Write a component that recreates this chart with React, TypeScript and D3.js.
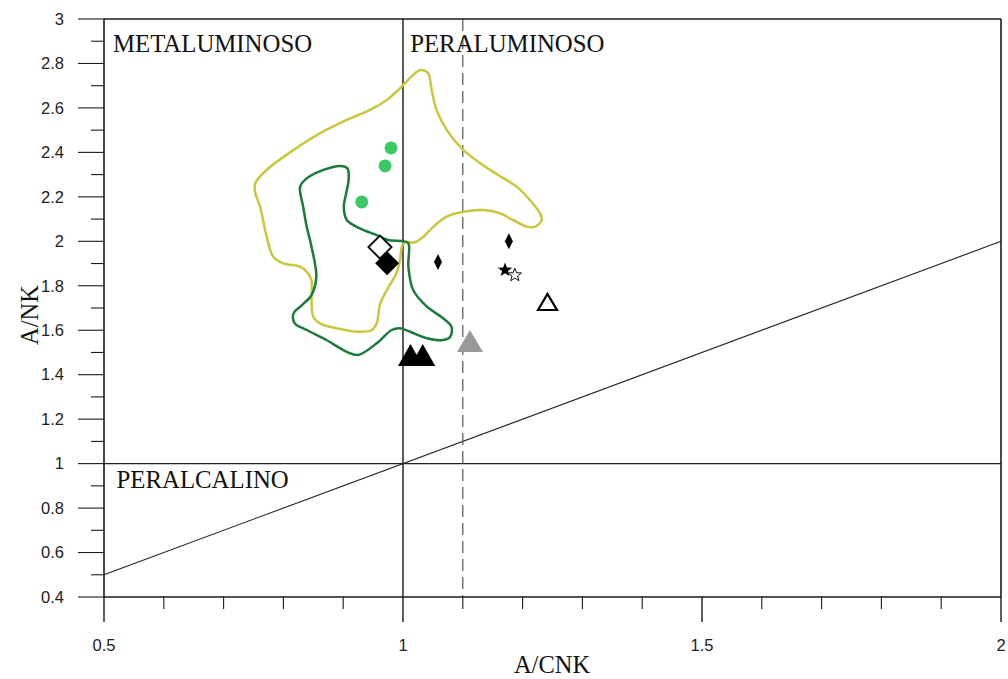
import React from "react";
import * as d3 from "d3";

// ---- Data ----
const xTicksMajor = [0.5, 1, 1.5, 2];
const xTicksMinor = [0.6, 0.7, 0.8, 0.9, 1.1, 1.2, 1.3, 1.4, 1.6, 1.7, 1.8, 1.9];
const yTicksMajor = [0.4, 0.6, 0.8, 1, 1.2, 1.4, 1.6, 1.8, 2, 2.2, 2.4, 2.6, 2.8, 3];
const yTicksMinor = [0.5, 0.7, 0.9, 1.1, 1.3, 1.5, 1.7, 1.9, 2.1, 2.3, 2.5, 2.7, 2.9];

// Yellow field outline [A/CNK, A/NK]
const yellowField: [number, number][] = [
  [1.023, 2.763], [1.031, 2.771], [1.042, 2.756], [1.048, 2.681], [1.056, 2.591],
  [1.073, 2.501], [1.098, 2.418], [1.129, 2.351], [1.159, 2.298], [1.19, 2.246],
  [1.212, 2.186], [1.229, 2.126], [1.232, 2.096], [1.221, 2.066], [1.207, 2.066],
  [1.184, 2.096], [1.162, 2.126], [1.134, 2.141], [1.101, 2.133], [1.073, 2.111],
  [1.051, 2.066], [1.031, 2.014], [1.017, 1.994], [1.006, 1.998], [0.999, 1.983],
  [0.995, 1.916], [0.989, 1.856], [0.973, 1.781], [0.962, 1.721], [0.956, 1.631],
  [0.948, 1.601], [0.923, 1.593], [0.889, 1.609], [0.861, 1.631], [0.85, 1.661],
  [0.847, 1.736], [0.847, 1.826], [0.839, 1.863], [0.828, 1.886], [0.8, 1.901],
  [0.783, 1.931], [0.772, 2.021], [0.761, 2.156], [0.753, 2.216], [0.753, 2.261],
  [0.772, 2.321], [0.817, 2.411], [0.856, 2.478], [0.906, 2.546], [0.945, 2.591],
  [0.973, 2.636], [0.995, 2.688],
];

// Dark green field outline
const greenField: [number, number][] = [
  [0.895, 2.339], [0.907, 2.328], [0.909, 2.276], [0.905, 2.216], [0.901, 2.156],
  [0.906, 2.096], [0.928, 2.058], [0.956, 2.028], [0.975, 2.006], [1.0, 2.001],
  [1.009, 1.991], [1.009, 1.886], [1.017, 1.781], [1.04, 1.706], [1.067, 1.654],
  [1.081, 1.616], [1.079, 1.571], [1.067, 1.556], [1.04, 1.564], [1.012, 1.593],
  [0.995, 1.609], [0.981, 1.601], [0.956, 1.541], [0.925, 1.489], [0.906, 1.503],
  [0.872, 1.556], [0.839, 1.601], [0.819, 1.631], [0.817, 1.676], [0.831, 1.713],
  [0.847, 1.758], [0.855, 1.841], [0.847, 1.976], [0.839, 2.066], [0.833, 2.156],
  [0.828, 2.246], [0.839, 2.283], [0.867, 2.321],
];

const greenCircles: [number, number][] = [[0.98, 2.42], [0.97, 2.339], [0.931, 2.177]];
const openDiamond: [number, number][] = [[0.9615, 1.974]];
const filledDiamond: [number, number][] = [[0.9735, 1.901]];
const thinDiamonds: [number, number][] = [[1.0585, 1.907], [1.177, 2.0]];
const filledStar: [number, number][] = [[1.1706, 1.871]];
const openStar: [number, number][] = [[1.187, 1.848]];
const openTriangle: [number, number][] = [[1.2416, 1.727]];
const grayTriangle: [number, number][] = [[1.112, 1.552]];
const blackTriangles: [number, number][] = [[1.0125, 1.489], [1.033, 1.489]];

const fieldLabels = [
  { text: "METALUMINOSO", x: 0.515, y: 2.852 },
  { text: "PERALUMINOSO", x: 1.012, y: 2.852 },
  { text: "PERALCALINO", x: 0.521, y: 0.891 },
];

const W = 1008;
const H = 679;

export default function App() {
  const x = d3.scaleLinear().domain([0.5, 2]).range([104, 1001]);
  const y = d3.scaleLinear().domain([0.4, 3]).range([597, 19]);
  const x0 = x(0.5), x1 = x(2), y0 = y(0.4), y1 = y(3);

  const line = d3
    .line<[number, number]>()
    .x((d) => x(d[0]))
    .y((d) => y(d[1]))
    .curve(d3.curveCatmullRomClosed.alpha(0.5));

  const tri = (cx: number, cy: number, w: number, h: number) =>
    `M${cx - w / 2},${cy + h / 2}L${cx},${cy - h / 2}L${cx + w / 2},${cy + h / 2}Z`;
  const diamond = (cx: number, cy: number, hw: number, hh: number) =>
    `M${cx},${cy - hh}L${cx + hw},${cy}L${cx},${cy + hh}L${cx - hw},${cy}Z`;
  const star = (cx: number, cy: number, r: number) => {
    const pts: string[] = [];
    for (let i = 0; i < 10; i++) {
      const a = -Math.PI / 2 + (i * Math.PI) / 5;
      const rr = i % 2 === 0 ? r : r * 0.42;
      pts.push(`${cx + rr * Math.cos(a)},${cy + rr * Math.sin(a)}`);
    }
    return "M" + pts.join("L") + "Z";
  };

  const axisColor = "#1a1a1a";
  const tickFont = "'Liberation Sans', Arial, sans-serif";
  const serif = "'Liberation Serif', 'Times New Roman', serif";

  return (
    <svg
      width={W}
      height={H}
      style={{ position: "absolute", left: 0, top: 0, background: "#fff" }}
    >
      <rect x={0} y={0} width={W} height={H} fill="#fff" />

      {/* reference lines */}
      <line x1={x0} x2={x1} y1={y(1)} y2={y(1)} stroke="#222" strokeWidth={1.1} />
      <line x1={x(0.5)} y1={y(0.5)} x2={x(2)} y2={y(2)} stroke="#222" strokeWidth={1.1} />
      <line x1={x(1)} x2={x(1)} y1={y1} y2={y0} stroke="#333" strokeWidth={1.6} />
      <line x1={x(1.1)} x2={x(1.1)} y1={y1} y2={y0} stroke="#555" strokeWidth={1.2} strokeDasharray="12,6" />

      {/* fields */}
      <path d={line(yellowField) || ""} fill="none" stroke="#c9c83c" strokeWidth={2.5} />
      <path d={line(greenField) || ""} fill="none" stroke="#1b7a3c" strokeWidth={2.5} />

      {/* frame */}
      <line x1={x0} x2={x1} y1={y1} y2={y1} stroke={axisColor} strokeWidth={1.6} />
      <line x1={x1} x2={x1} y1={y1} y2={y0} stroke={axisColor} strokeWidth={1.6} />
      <line x1={x0} x2={x1} y1={y0} y2={y0} stroke={axisColor} strokeWidth={1.4} />
      <line x1={x0} x2={x0} y1={y1} y2={y0} stroke={axisColor} strokeWidth={1.6} />

      {/* x ticks */}
      {xTicksMajor.map((t) => (
        <g key={"xm" + t}>
          <line x1={x(t)} x2={x(t)} y1={y0} y2={y0 + 25} stroke={axisColor} strokeWidth={1.4} />
          <text x={x(t)} y={y0 + 54} fontSize={16.5} fontFamily={tickFont} textAnchor="middle" fill="#222">
            {t}
          </text>
        </g>
      ))}
      {xTicksMinor.map((t) => (
        <line key={"xn" + t} x1={x(t)} x2={x(t)} y1={y0} y2={y0 + 12} stroke={axisColor} strokeWidth={1.1} />
      ))}

      {/* y ticks */}
      {yTicksMajor.map((t) => (
        <g key={"ym" + t}>
          <line x1={x0 - 26} x2={x0} y1={y(t)} y2={y(t)} stroke={axisColor} strokeWidth={1.1} />
          <text x={x0 - 40} y={y(t)} dy="0.35em" fontSize={16.5} fontFamily={tickFont} textAnchor="end" fill="#222">
            {t}
          </text>
        </g>
      ))}
      {yTicksMinor.map((t) => (
        <line key={"yn" + t} x1={x0 - 13} x2={x0} y1={y(t)} y2={y(t)} stroke={axisColor} strokeWidth={1.1} />
      ))}

      {/* axis titles */}
      <text x={552} y={673} fontSize={24.5} fontFamily={serif} textAnchor="middle" fill="#111">
        A/CNK
      </text>
      <text
        transform={`translate(38,315) rotate(-90)`}
        fontSize={24.5}
        fontFamily={serif}
        textAnchor="middle"
        fill="#111"
      >
        A/NK
      </text>

      {/* field labels */}
      {fieldLabels.map((l) => (
        <text key={l.text} x={x(l.x)} y={y(l.y)} fontSize={24.8} fontFamily={serif} fill="#111">
          {l.text}
        </text>
      ))}

      {/* markers */}
      {greenCircles.map((d, i) => (
        <circle key={"gc" + i} cx={x(d[0])} cy={y(d[1])} r={6.5} fill="#3cc864" />
      ))}
      {openDiamond.map((d, i) => (
        <path key={"od" + i} d={diamond(x(d[0]), y(d[1]), 11.5, 11.5)} fill="#fff" stroke="#111" strokeWidth={2} />
      ))}
      {filledDiamond.map((d, i) => (
        <path key={"fd" + i} d={diamond(x(d[0]), y(d[1]), 12, 12)} fill="#000" />
      ))}
      {thinDiamonds.map((d, i) => (
        <path key={"td" + i} d={diamond(x(d[0]), y(d[1]), 4, 8)} fill="#000" />
      ))}
      {filledStar.map((d, i) => (
        <path key={"fs" + i} d={star(x(d[0]), y(d[1]), 7.5)} fill="#000" />
      ))}
      {openStar.map((d, i) => (
        <path key={"os" + i} d={star(x(d[0]), y(d[1]), 7)} fill="#fff" stroke="#111" strokeWidth={1} />
      ))}
      {openTriangle.map((d, i) => (
        <path key={"ot" + i} d={tri(x(d[0]), y(d[1]), 19, 16)} fill="#fff" stroke="#000" strokeWidth={2.2} />
      ))}
      {grayTriangle.map((d, i) => (
        <path key={"gt" + i} d={tri(x(d[0]), y(d[1]), 26, 22)} fill="#999" />
      ))}
      {blackTriangles.map((d, i) => (
        <path key={"bt" + i} d={tri(x(d[0]), y(d[1]), 25, 22)} fill="#000" />
      ))}
    </svg>
  );
}
